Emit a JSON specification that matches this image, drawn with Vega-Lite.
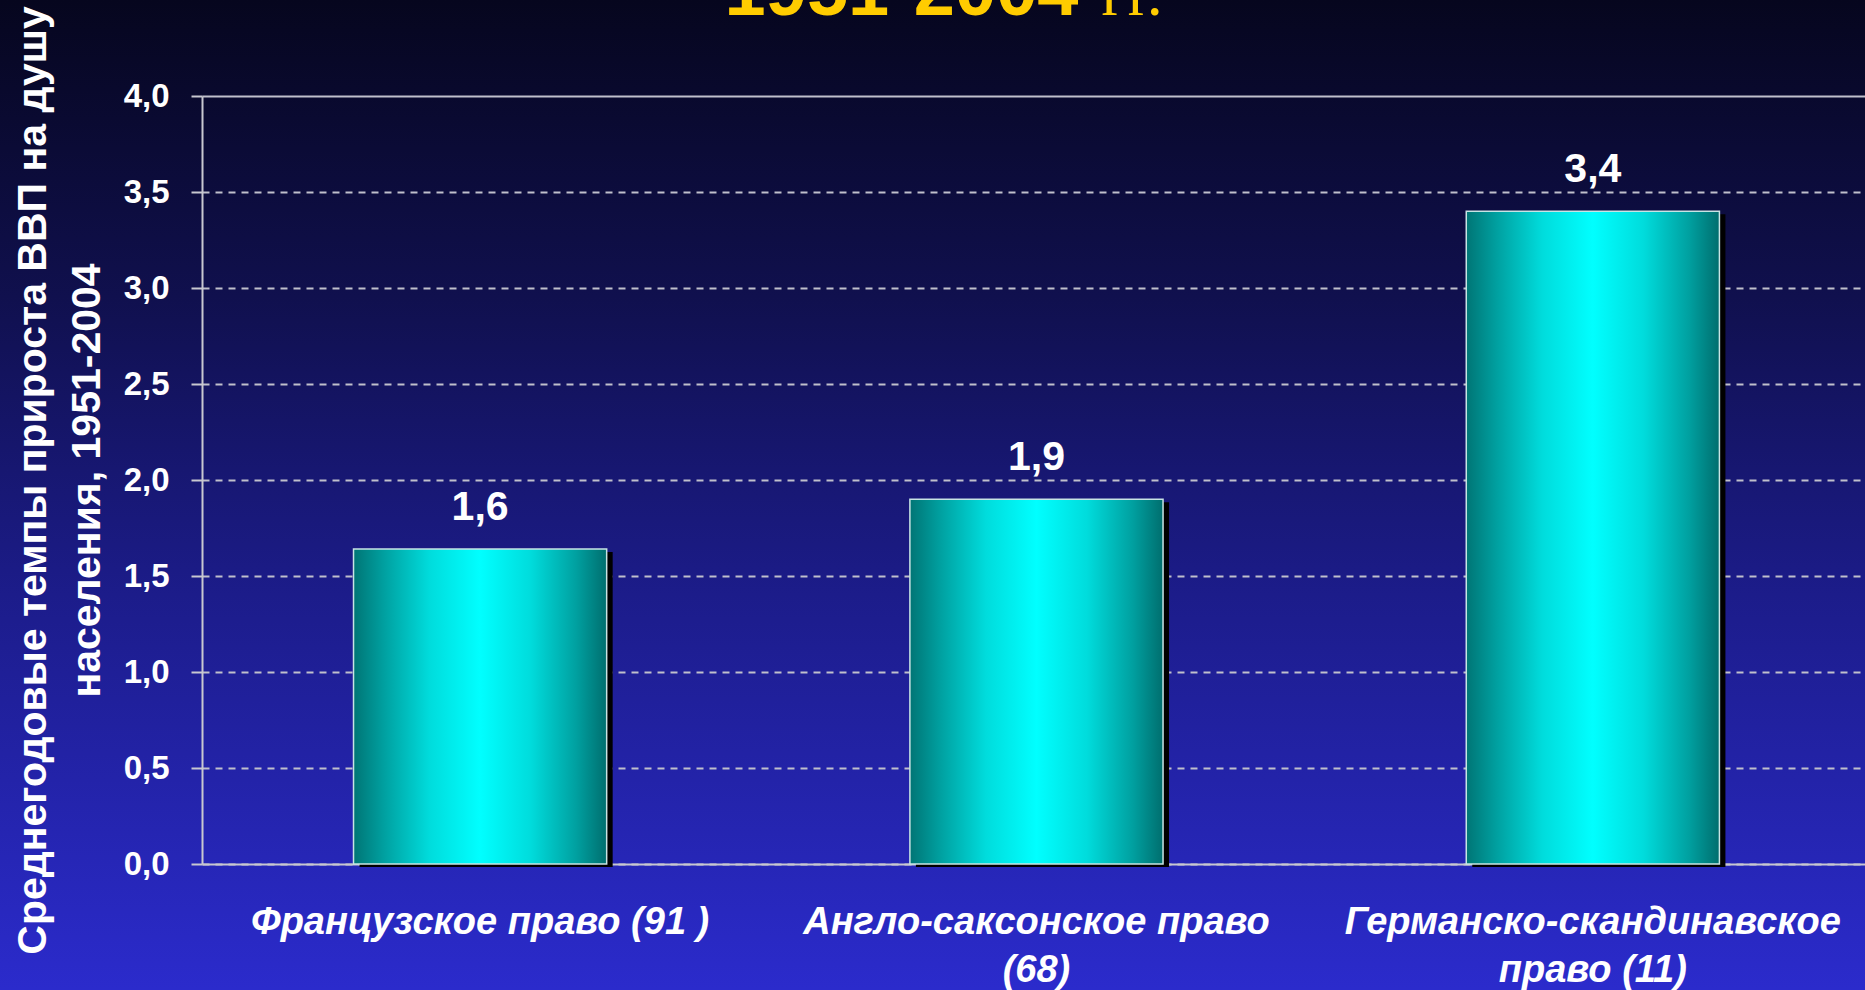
{
  "$schema": "https://vega.github.io/schema/vega-lite/v6.json",
  "width": 1865,
  "height": 990,
  "autosize": {"type": "none"},
  "padding": 0,
  "background": "#1a1a7a",
  "data": {
    "values": [
      {"system": "Французское право (91 )", "value": 1.64},
      {"system": "Англо-саксонское право (68)", "value": 1.9},
      {"system": "Германско-скандинавское право (11)", "value": 3.4}
    ]
  },
  "encoding": {
    "x": {
      "field": "system",
      "type": "nominal",
      "sort": null,
      "scale": {"range": [202, 1865], "paddingInner": 0.545, "paddingOuter": 0.267, "align": 0.51},
      "axis": {
        "title": null,
        "orient": "bottom",
        "offset": -126,
        "ticks": false,
        "tickSize": 0,
        "labelAngle": 0,
        "labelFont": "Liberation Sans",
        "labelFontSize": 38,
        "labelFontWeight": "bold",
        "labelFontStyle": "italic",
        "labelColor": "#ffffff",
        "labelBaseline": "alphabetic",
        "labelPadding": 69,
        "labelLineHeight": 48,
        "labelLimit": 0,
        "labelExpr": "datum.value == 'Англо-саксонское право (68)' ? ['Англо-саксонское право', '(68)'] : datum.value == 'Германско-скандинавское право (11)' ? ['Германско-скандинавское', 'право (11)'] : datum.value",
        "domain": true,
        "domainColor": "#c8c8d0",
        "domainWidth": 2,
        "grid": false
      }
    },
    "y": {
      "field": "value",
      "type": "quantitative",
      "scale": {"domain": [0, 4], "range": [864, 96], "nice": false, "zero": true},
      "axis": {
        "title": ["Среднегодовые темпы прироста ВВП на душу", "населения, 1951-2004"],
        "titleFont": "Liberation Sans",
        "titleFontSize": 41,
        "titleFontWeight": "bold",
        "titleColor": "#ffffff",
        "titleLineHeight": 54,
        "titlePadding": 15,
        "orient": "left",
        "offset": -202,
        "values": [0, 0.5, 1, 1.5, 2, 2.5, 3, 3.5, 4],
        "format": ".1f",
        "labelFont": "Liberation Sans",
        "labelFontSize": 33,
        "labelFontWeight": "bold",
        "labelColor": "#ffffff",
        "labelPadding": 22,
        "ticks": true,
        "tickSize": 11,
        "tickColor": "#c8c8d0",
        "tickWidth": 2,
        "domain": true,
        "domainColor": "#c8c8d0",
        "domainWidth": 2,
        "grid": true,
        "gridColor": "#c0c0cc",
        "gridWidth": 2,
        "gridDash": {"condition": {"test": "datum.value === 4", "value": [1, 0]}, "value": [7, 6]}
      }
    }
  },
  "layer": [
    {
      "mark": {"type": "bar", "color": "#000000", "xOffset": 6, "x2Offset": 6, "yOffset": 3}
    },
    {
      "mark": {
        "type": "bar",
        "color": {
          "gradient": "linear",
          "x1": 0, "y1": 0, "x2": 1, "y2": 0,
          "stops": [
            {"offset": 0, "color": "#007575"},
            {"offset": 0.12, "color": "#00a0a0"},
            {"offset": 0.3, "color": "#00dcdc"},
            {"offset": 0.5, "color": "#00ffff"},
            {"offset": 0.7, "color": "#00dcdc"},
            {"offset": 0.88, "color": "#00a0a0"},
            {"offset": 1, "color": "#006e6e"}
          ]
        },
        "stroke": "#c8e4e4",
        "strokeWidth": 1.5
      }
    },
    {
      "mark": {
        "type": "text",
        "color": "#ffffff",
        "font": "Liberation Sans",
        "fontSize": 41,
        "fontWeight": "bold",
        "baseline": "alphabetic",
        "align": "center",
        "dy": -29
      },
      "encoding": {
        "text": {"field": "value", "type": "quantitative", "format": ".1f"}
      }
    },
    {
      "data": {"values": [{"system": "Англо-саксонское право (68)", "value": 4.42, "caption": "1951-2004"}]},
      "mark": {
        "type": "text",
        "color": "#FFCC00",
        "font": "Liberation Sans",
        "fontSize": 74,
        "fontWeight": "bold",
        "baseline": "alphabetic",
        "align": "right",
        "dx": 42
      },
      "encoding": {
        "text": {"field": "caption", "type": "nominal"}
      }
    },
    {
      "data": {"values": [{"system": "Англо-саксонское право (68)", "value": 4.42, "caption": "гг."}]},
      "mark": {
        "type": "text",
        "color": "#FFCC00",
        "font": "Liberation Serif",
        "fontSize": 64,
        "baseline": "alphabetic",
        "align": "left",
        "dx": 65
      },
      "encoding": {
        "text": {"field": "caption", "type": "nominal"}
      }
    }
  ],
  "config": {
    "locale": {"number": {"decimal": ",", "thousands": " ", "grouping": [3], "currency": ["", " ₽"]}},
    "view": {
      "stroke": null,
      "fill": {
        "gradient": "linear",
        "x1": 0, "y1": 0, "x2": 0, "y2": 1,
        "stops": [
          {"offset": 0, "color": "#06061e"},
          {"offset": 0.3, "color": "#10104e"},
          {"offset": 0.6, "color": "#1c1c8a"},
          {"offset": 1, "color": "#2b2bcc"}
        ]
      }
    }
  }
}
